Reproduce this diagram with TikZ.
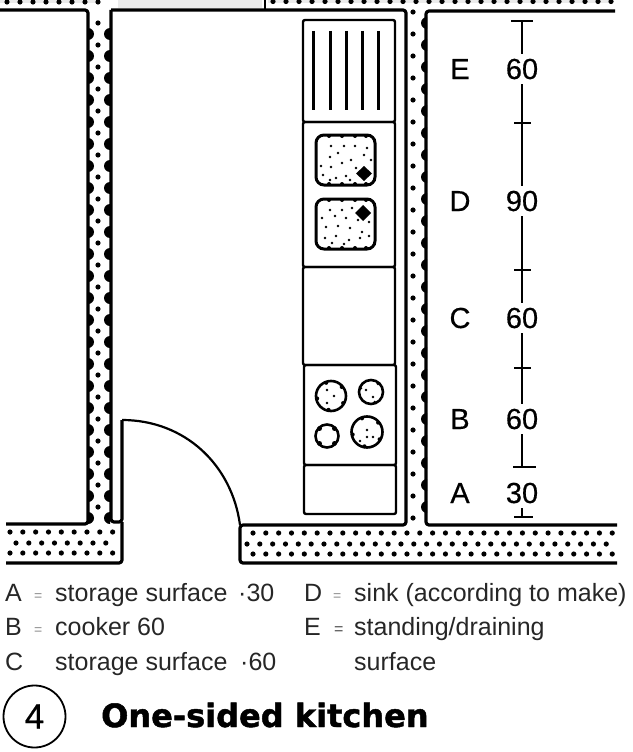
\documentclass[tikz,border=0pt]{standalone}
\usepackage{fontspec}
\setmainfont{Liberation Sans}
\newfontfamily\labfont[FakeBold=0.5]{Liberation Sans}
\newfontfamily\titlefont[FakeBold=1.5]{DejaVu Sans Bold}
\tikzset{
  wall/.style={line width=3.2pt,line join=round,rounded corners=3pt},
  unit/.style={line width=2.4pt,rounded corners=2pt},
  basin/.style={line width=3pt,rounded corners=8pt,fill=white},
  ring/.style={line width=2.6pt,fill=white},
  slat/.style={line width=3pt},
  dim/.style={line width=1.5pt},
  lab/.style={inner sep=0pt,outer sep=5pt,anchor=base,font=\labfont\fontsize{29}{29}\selectfont},
  leg/.style={inner sep=0pt,anchor=base west,font=\fontsize{25}{25}\selectfont,text=black!85},
}
\newcommand{\wdot}[2]{\fill (#1,#2) circle (2.6);}
\newcommand{\fleck}[2]{\fill (#1,#2) circle (1.3);}
\begin{document}
\begin{tikzpicture}[x=1pt,y=-1pt]
\useasboundingbox (0,0) rectangle (632,752);
% opening at the top
\fill[black!8] (118,0) rectangle (262,8);
\fill[black!8] (0,0) rectangle (100,3);
\fill[black!8] (268,0) rectangle (612,3);
% dots of the walls
\foreach \k in {0,...,7} {\pgfmathsetmacro{\xx}{7+13*\k} \wdot{\xx}{2}}
\foreach \k in {0,...,26} {\pgfmathsetmacro{\xx}{273+13*\k} \wdot{\xx}{1.5}}
\foreach \k in {0,...,8} {\pgfmathsetmacro{\xx}{10+12.83*\k} \wdot{\xx}{532} \wdot{\xx}{553}}
\foreach \k in {0,...,7} {\pgfmathsetmacro{\xx}{16+12.83*\k} \wdot{\xx}{543}}
\foreach \k in {0,...,28} {\pgfmathsetmacro{\xx}{253+12.83*\k} \wdot{\xx}{533} \wdot{\xx}{554}}
\foreach \k in {0,...,28} {\pgfmathsetmacro{\xx}{247+12.83*\k} \wdot{\xx}{544}}
% left partition
\foreach \k in {0,...,22} {
  \pgfmathsetmacro{\yy}{23+22*\k}
  \wdot{98}{\yy}
}
\begin{scope}
\clip (88,10) rectangle (110,524);
\foreach \k in {0,...,22} {
  \pgfmathsetmacro{\yy}{34+22*\k}
  \fill (88,\yy) circle (6);
  \fill (110,\yy) circle (6);
}
\end{scope}
% right partition
\foreach \k in {0,...,23} {
  \pgfmathsetmacro{\yy}{12+22*\k}
  \wdot{413}{\yy}
}
\begin{scope}
\clip (406,10) rectangle (427,526);
\foreach \k in {0,...,22} {
  \pgfmathsetmacro{\yy}{23+22*\k}
  \fill (427,\yy) circle (6);
}
\end{scope}
% wall outlines
\draw[wall] (0,10) -- (88,10) -- (88,524) -- (6,524);
\draw[wall] (6,563) -- (122,563) -- (122,522);
\draw[wall] (111,10) -- (111,522) -- (122,522) -- (122,420);
\draw[wall] (111,10) -- (406,10) -- (406,525) -- (240,525) -- (240,563) -- (617,563);
\draw[wall] (615,11) -- (426,11) -- (426,525) -- (617,525);
\draw[line width=2pt] (265,0) -- (265,10);
% door swing
\draw[line width=2.2pt] (122,420) .. controls (185,420) and (232,465) .. (240,525);
% kitchen units
\draw[unit] (303,20) rectangle (395,122);
\draw[unit] (303,122) rectangle (395,267);
\draw[unit] (303,267) rectangle (395,365);
\draw[unit] (304,365) rectangle (396,465);
\draw[unit] (304,465) rectangle (396,514);
% draining board
\foreach \x in {313,330,346,362,378} {\draw[slat] (\x,31) -- (\x,110);}
% sinks
\draw[basin] (316,135) rectangle (375,185);
\draw[basin] (316,199) rectangle (375,249);
\foreach \x in {329,342,355,366} {\fill (\x,136) circle (2); \fill (\x,184) circle (2); \fill (\x,200) circle (2); \fill (\x,248) circle (2);}
\foreach \x/\y in {331/146,344/146,355/146,367/148,330/157,338/153,351/160,364/155,321/166,331/167,342/163,356/168,371/160,323/175,336/178,346/176,330/180,350/180} {\fleck{\x}{\y}}
\foreach \x/\y in {330/210,342/210,352/208,322/218,335/216,346/218,358/220,369/222,326/227,338/226,350/228,362/232,325/238,336/236,349/240,360/238,369/236,332/243,344/244} {\fleck{\x}{\y}}
\fill (364,166) -- (372,173.5) -- (364,181) -- (356,173.5) -- cycle;
\fill (363,205) -- (371,213) -- (363,221) -- (355,213) -- cycle;
% hob
\draw[ring] (331,396) circle (15);
\draw[ring] (371,392) circle (12);
\draw[ring] (327,436) circle (11.5);
\draw[ring] (367,432) circle (15.5);
\foreach \x/\y in {327/390,334/396,327/403,366/390,373/397,367/437,360/441,373/437,367/430} {\fleck{\x}{\y}}
\foreach \a in {30,100,170,250,320} {\fill (331,396) ++(\a:14) circle (2); \fill (367,432) ++(\a:14.5) circle (2);}
\foreach \a in {45,135,225,315} {\fill (327,436) ++(\a:10.5) circle (2.4);}
\foreach \a in {70,200,310} {\fill (371,392) ++(\a:11) circle (1.8);}
% dimension chain
\coordinate (t0) at (522,21); \coordinate (t4) at (522,467); \coordinate (t5) at (522,517);
\node[lab] (n60e) at (522,79) {60};
\node[lab] (n90) at (522,211) {90};
\node[lab] (n60c) at (522,328) {60};
\node[lab] (n60b) at (522,429) {60};
\node[lab] (n30) at (522,503) {30};
\node[lab] (le) at (460,79) {E};
\node[lab] (ld) at (460,211) {D};
\node[lab] (lc) at (460,328) {C};
\node[lab] (lb) at (460,429) {B};
\node[lab] (la) at (460,503) {A};
\draw[dim] (t0) -- (n60e.north);
\draw[dim] (n60e.south) -- (n90.north);
\draw[dim] (n90.south) -- (n60c.north);
\draw[dim] (n60c.south) -- (n60b.north);
\draw[dim] (n60b.south) -- (t4);
\draw[dim] (n30.south) -- (t5);
\draw[dim] (511,21) -- (533,21);
\draw[dim] (514,123) -- (531,123);
\draw[dim] (514,270) -- (531,270);
\draw[dim] (514,368) -- (531,368);
\draw[dim] (513,467) -- (536,467);
\draw[dim] (514,517) -- (533,517);
% legend
\node[leg] (a1) at (5,601) {A};
\node[leg,text=black!45] (a2) at (34,600) {\fontsize{14}{14}\selectfont =};
\node[leg] (a3) at (55,601) {storage surface};
\node[leg] (a4) at (238,601) {·30};
\node[leg] (b1) at (5,635) {B};
\node[leg,text=black!45] (b2) at (34,634) {\fontsize{14}{14}\selectfont =};
\node[leg] (b3) at (55,635) {cooker 60};
\node[leg] (c1) at (5,670) {C};
\node[leg] (c3) at (55,670) {storage surface};
\node[leg] (c4) at (240,670) {·60};
\node[leg] (d1) at (304,601) {D};
\node[leg,text=black!45] (d2) at (333,600) {\fontsize{14}{14}\selectfont =};
\node[leg] (d3) at (354,601) {sink (according to make)};
\node[leg] (e1) at (304,635) {E};
\node[leg,text=black!70] (e2) at (334,634) {\fontsize{16}{16}\selectfont =};
\node[leg] (e3) at (354,635) {standing/draining};
\node[leg] (e4) at (354,670) {surface};
% caption
\node[circle,draw,line width=1.8pt,minimum size=62pt,inner sep=0pt,font=\labfont\fontsize{35}{35}\selectfont] (num) at (34.5,716.5) {4};
\node[inner sep=0pt,anchor=base west,font=\titlefont\fontsize{32}{32}\selectfont] (title) at (101,727) {One-sided kitchen};
\end{tikzpicture}
\end{document}
